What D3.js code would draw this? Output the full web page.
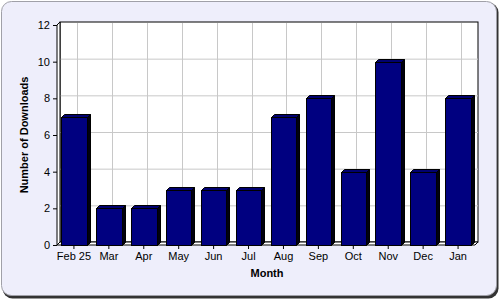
<!DOCTYPE html>
<html>
<head>
<meta charset="utf-8">
<script src="https://cdn.jsdelivr.net/npm/d3@7"></script>
<style>
  body { margin: 0; background: #fff; }
  svg { display: block; font-family: "Liberation Sans", Arial, sans-serif; }
</style>
</head>
<body>
<div id="chart"></div>
<script>
// chart data
const months = ["Feb 25", "Mar", "Apr", "May", "Jun", "Jul", "Aug", "Sep", "Oct", "Nov", "Dec", "Jan"];
const downloads = [7, 2, 2, 3, 3, 3, 7, 8, 4, 10, 4, 8];
const yTicks = [0, 2, 4, 6, 8, 10, 12];

const width = 500, height = 300;
const depth = 3;
const plot = { left: 57, right: 475, top: 25, bottom: 245 };

const svg = d3.select("#chart").append("svg")
    .attr("width", width)
    .attr("height", height);

// Background panel with shadow
svg.append("rect")
    .attr("x", 2.5).attr("y", 2.5)
    .attr("width", 496).attr("height", 296)
    .attr("rx", 10)
    .attr("fill", "#333");
svg.append("rect")
    .attr("x", 1.5).attr("y", 1.5)
    .attr("width", 495).attr("height", 294)
    .attr("rx", 10)
    .attr("fill", "#eeeefb")
    .attr("stroke", "#a0a0a8");

const x = d3.scaleBand()
    .domain(months)
    .range([plot.left, plot.right])
    .paddingInner(0.27)
    .paddingOuter(0.12);

const y = d3.scaleLinear()
    .domain([0, 12])
    .range([plot.bottom, plot.top]);

// Back wall
svg.append("rect")
    .attr("x", plot.left + depth).attr("y", plot.top - depth)
    .attr("width", plot.right - plot.left).attr("height", plot.bottom - plot.top)
    .attr("fill", "#fff")
    .attr("stroke", "#000");

// Grid lines on the back wall
svg.append("g")
    .selectAll("line.h")
    .data(yTicks.slice(1, -1))
    .join("line")
    .attr("x1", plot.left + depth).attr("x2", plot.right + depth)
    .attr("y1", d => y(d) - depth + 0.5).attr("y2", d => y(d) - depth + 0.5)
    .attr("stroke", "#c8c8c8");

svg.append("g")
    .selectAll("line.v")
    .data(months)
    .join("line")
    .attr("x1", d => Math.round(x(d) + x.bandwidth() / 2) + depth + 0.5)
    .attr("x2", d => Math.round(x(d) + x.bandwidth() / 2) + depth + 0.5)
    .attr("y1", plot.top - depth + 1).attr("y2", plot.bottom - depth)
    .attr("stroke", "#c8c8c8");

// Left wall and floor
svg.append("path")
    .attr("d", `M${plot.left},${plot.bottom} L${plot.left},${plot.top} L${plot.left + depth},${plot.top - depth} L${plot.left + depth},${plot.bottom - depth} Z`)
    .attr("fill", "#fff").attr("stroke", "#000");
svg.append("path")
    .attr("d", `M${plot.left},${plot.bottom} L${plot.right},${plot.bottom} L${plot.right + depth},${plot.bottom - depth} L${plot.left + depth},${plot.bottom - depth} Z`)
    .attr("fill", "#fff").attr("stroke", "#000");

// Bars (3D)
const bars = svg.append("g")
    .selectAll("g")
    .data(months.map((m, i) => ({ month: m, value: downloads[i] })))
    .join("g");

bars.append("path") // side face
    .attr("d", d => {
        const x1 = Math.round(x(d.month) + x.bandwidth()) + 0.5, yt = Math.round(y(d.value)) + 0.5, yb = plot.bottom + 0.5;
        return `M${x1},${yt} L${x1 + depth},${yt - depth} L${x1 + depth},${yb - depth} L${x1},${yb} Z`;
    })
    .attr("fill", "#000010").attr("stroke", "#000");

bars.append("path") // top face
    .attr("d", d => {
        const x0 = Math.round(x(d.month)) + 0.5, x1 = Math.round(x(d.month) + x.bandwidth()) + 0.5, yt = Math.round(y(d.value)) + 0.5;
        return `M${x0},${yt} L${x1},${yt} L${x1 + depth},${yt - depth} L${x0 + depth},${yt - depth} Z`;
    })
    .attr("fill", "#000070").attr("stroke", "#000");

bars.append("rect") // front face
    .attr("x", d => Math.round(x(d.month)) + 0.5)
    .attr("y", d => Math.round(y(d.value)) + 0.5)
    .attr("width", d => Math.round(x(d.month) + x.bandwidth()) - Math.round(x(d.month)))
    .attr("height", d => plot.bottom - Math.round(y(d.value)))
    .attr("fill", "#000080")
    .attr("stroke", "#000");

// Axes
const yAxis = svg.append("g")
    .attr("transform", `translate(${plot.left},0)`)
    .call(d3.axisLeft(y).tickValues(yTicks).tickSize(4).tickPadding(3));
yAxis.select(".domain").remove();
yAxis.selectAll("text").attr("font-size", 11).attr("fill", "#000");

const xAxis = svg.append("g")
    .attr("transform", `translate(0,${plot.bottom})`)
    .call(d3.axisBottom(x).tickSize(4).tickPadding(3));
xAxis.select(".domain").remove();
xAxis.selectAll("text").attr("font-size", 11).attr("fill", "#000");

// Axis titles
svg.append("text")
    .attr("x", (plot.left + plot.right) / 2 + 1)
    .attr("y", 277)
    .attr("text-anchor", "middle")
    .attr("font-size", 11)
    .attr("font-weight", "bold")
    .text("Month");

svg.append("text")
    .attr("transform", `translate(28,${(plot.top + plot.bottom) / 2}) rotate(-90)`)
    .attr("text-anchor", "middle")
    .attr("font-size", 11)
    .attr("font-weight", "bold")
    .text("Number of Downloads");
</script>
</body>
</html>
